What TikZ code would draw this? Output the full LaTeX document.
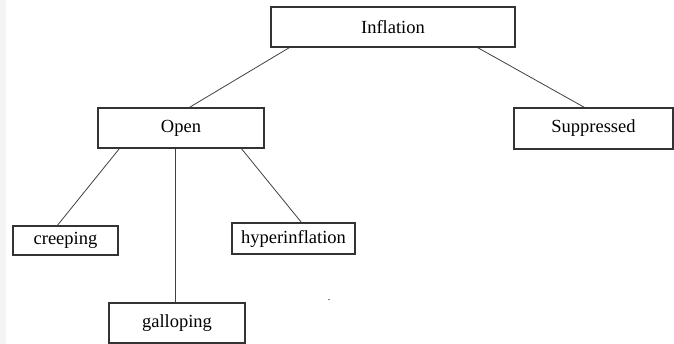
\documentclass[tikz,border=0pt]{standalone}
\usepackage{fontspec}
\setmainfont{Liberation Serif}
\begin{document}
\begin{tikzpicture}[x=1pt,y=-1pt,
  box/.style={draw=black!80,line width=1.2pt,inner sep=0pt,font=\fontsize{18.5}{20}\selectfont},
  link/.style={draw=black!75,line width=0.8pt}]
\useasboundingbox (0,0) rectangle (674,344);
\fill[blue!4!gray!8] (0,0) rectangle (6,344);
\node[box,minimum width=244pt,minimum height=40pt] (inf) at (393,27) {Inflation};
\node[box,minimum width=166pt,minimum height=40pt] (open) at (181,128) {Open\hspace{10pt}};
\node[box,minimum width=159pt,minimum height=41pt] (sup) at (593.5,128.5) {Suppressed};
\node[box,minimum width=105pt,minimum height=29pt] (cre) at (65.5,240.5) {creeping};
\node[box,minimum width=123pt,minimum height=31pt] (hyp) at (293.5,238.5) {hyperinflation};
\node[box,minimum width=136pt,minimum height=40pt] (gal) at (177,323) {galloping};
\node[font=\fontsize{10}{10}\selectfont,inner sep=0pt] (dot) at (329,300) {.};
\draw[link] ([xshift=19pt]inf.south west) -- ([xshift=92pt]open.north west);
\draw[link] ([xshift=-38pt]inf.south east) -- ([xshift=71pt]sup.north west);
\draw[link] ([xshift=22pt]open.south west) -- ([xshift=45pt]cre.north west);
\draw[link] ([xshift=78pt]open.south west) -- ([xshift=67pt]gal.north west);
\draw[link] ([xshift=144pt]open.south west) -- ([xshift=70pt]hyp.north west);
\end{tikzpicture}
\end{document}
